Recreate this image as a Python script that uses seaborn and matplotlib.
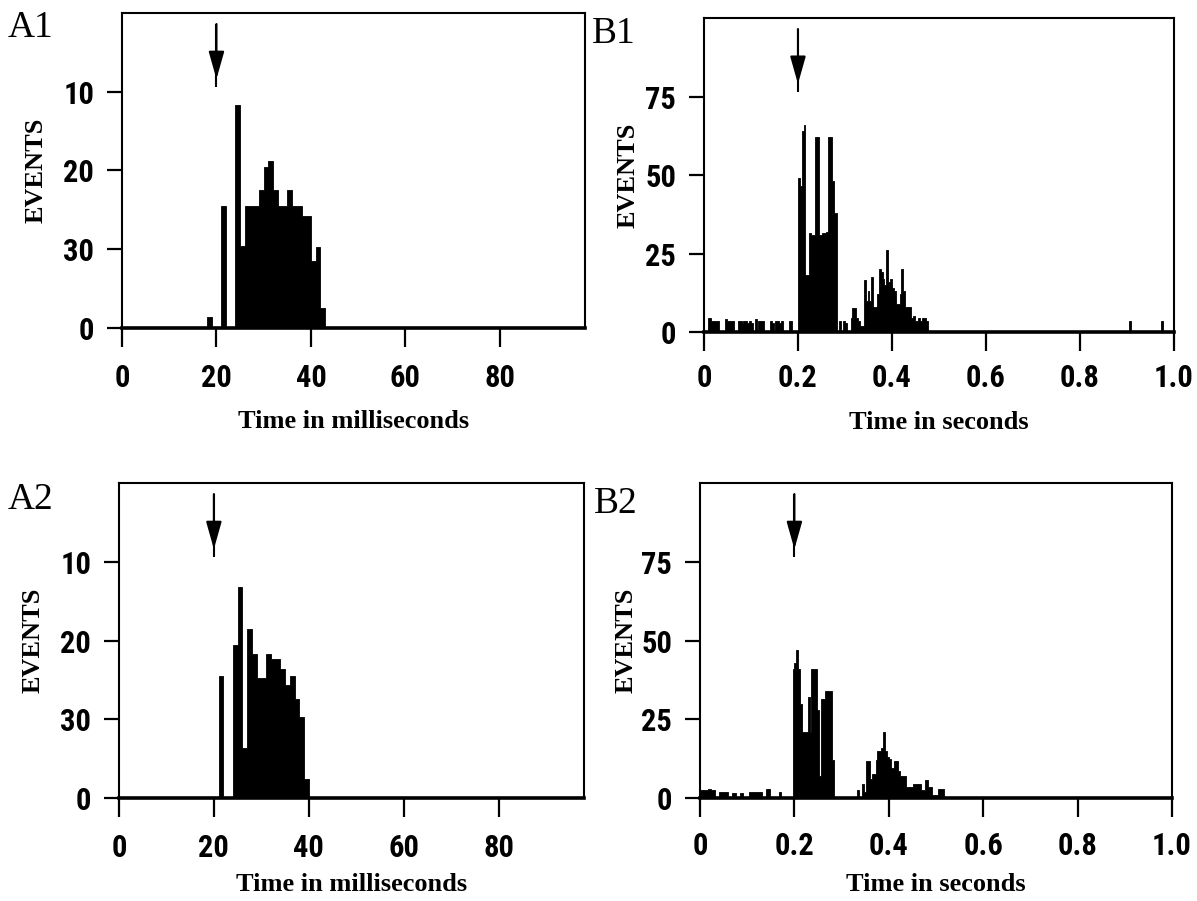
import numpy as np
import pandas as pd
import matplotlib
matplotlib.use("Agg")
import matplotlib.pyplot as plt
import matplotlib.transforms as mtransforms
from matplotlib import font_manager
from matplotlib.font_manager import FontProperties
import seaborn as sns

# ---------------- data: bin start times and event counts ----------------
# A1 / A2: 1 ms bins, time in milliseconds
a1_time = [18, 21, 24, 25, 26, 27, 28, 29, 30, 31, 32, 33, 34, 35, 36, 37, 38, 39, 40, 41, 42]
a1_count = [1.4, 15.5, 28.3, 10.4, 15.5, 15.5, 15.5, 17.5, 20.5, 21.2, 17.5, 15.5, 15.5,
            17.5, 15.5, 15.5, 14.2, 14.2, 8.5, 10.3, 2.5]

a2_time = [21, 24, 25, 26, 27, 28, 29, 30, 31, 32, 33, 34, 35, 36, 37, 38, 39]
a2_count = [15.5, 19.4, 26.8, 6.4, 21.5, 18.3, 15.3, 15.3, 18.3, 17.7, 17.7, 16.4, 14.4,
            15.5, 12.6, 10.3, 2.4]

# B1 / B2: 4 ms bins, time in seconds
b1_time = [0.008, 0.012, 0.016, 0.020, 0.024, 0.028,
           0.044, 0.048, 0.052, 0.056, 0.060,
           0.072, 0.076, 0.080, 0.084, 0.088, 0.092, 0.096, 0.100,
           0.108, 0.116, 0.120, 0.124, 0.140, 0.144,
           0.152, 0.156, 0.160, 0.164, 0.180, 0.184,
           0.200, 0.204, 0.208, 0.212, 0.216, 0.220, 0.224, 0.228, 0.232, 0.236,
           0.240, 0.244, 0.248, 0.252, 0.256, 0.260, 0.264, 0.268, 0.272, 0.276, 0.280,
           0.288, 0.296, 0.300, 0.312, 0.316, 0.320, 0.324, 0.328, 0.332, 0.336,
           0.340, 0.344, 0.348, 0.352, 0.356, 0.360, 0.364, 0.368, 0.372, 0.376,
           0.380, 0.384, 0.388, 0.392, 0.396, 0.400, 0.404, 0.408, 0.412, 0.416,
           0.420, 0.424, 0.428, 0.432, 0.436, 0.440, 0.444, 0.448, 0.452, 0.456,
           0.460, 0.464, 0.468, 0.472,
           0.904, 0.972]
b1_count = [4.5, 4.5, 3.5, 3.5, 3.5, 3.5,
            4.0, 3.5, 3.5, 3.5, 3.5,
            3.5, 3.5, 3.0, 3.5, 3.5, 3.0, 3.5, 3.0,
            4.0, 3.5, 3.5, 3.5, 3.5, 3.0,
            3.5, 3.5, 3.0, 3.5, 3.5, 3.5,
            49, 46.5, 64, 66, 18, 18, 31.5, 31, 31, 62,
            62, 31, 31, 31.5, 31.5, 32, 62, 62, 48, 38, 38,
            3.5, 3.5, 3.0, 4.5, 7.5, 7.5, 4.5, 3.5, 2.0, 2.0,
            16.5, 10, 13, 10, 17.5, 8, 8, 12, 20, 19,
            17, 15, 26, 16, 17, 14, 13, 9, 9, 12,
            20, 13, 8, 8, 8, 4.5, 5, 3.5, 3.5, 4.5,
            3.5, 4.5, 4.5, 3.5,
            3.5, 3.5]

b2_time = [0.000, 0.004, 0.008, 0.012, 0.016, 0.020, 0.024, 0.028,
           0.040, 0.044, 0.048, 0.052, 0.056,
           0.068, 0.072, 0.084, 0.088,
           0.104, 0.108, 0.112, 0.116, 0.120, 0.124, 0.128,
           0.140, 0.144, 0.168,
           0.196, 0.200, 0.204, 0.208, 0.212, 0.216, 0.220, 0.224, 0.228, 0.232,
           0.236, 0.240, 0.244, 0.248, 0.252, 0.256, 0.260, 0.264, 0.268, 0.272,
           0.276, 0.280,
           0.332, 0.344, 0.348, 0.352, 0.356, 0.360, 0.364, 0.368, 0.372, 0.376,
           0.380, 0.384, 0.388, 0.392, 0.396, 0.400, 0.404, 0.408, 0.412, 0.416,
           0.420, 0.424, 0.428, 0.432, 0.436, 0.440, 0.444, 0.448, 0.452, 0.456,
           0.460, 0.464, 0.468, 0.472, 0.476, 0.480, 0.484, 0.488, 0.492, 0.496,
           0.500, 0.504, 0.508, 0.512]
b2_count = [2.5, 2.5, 2.5, 2.5, 3.0, 3.0, 2.5, 2.5,
            2.0, 2.0, 2.0, 2.0, 2.0,
            1.5, 1.5, 1.5, 1.5,
            2.0, 2.0, 2.0, 2.0, 2.0, 2.0, 2.0,
            3.0, 3.0, 2.0,
            41, 43, 47, 41, 30, 21, 21, 21, 32, 21,
            41, 41, 41, 28, 7, 31.5, 31.5, 34, 34, 34,
            34, 12,
            2.7, 4.3, 2.0, 11.6, 11.6, 6, 7.5, 7.5, 12, 14.8,
            14.8, 16, 21, 15, 13, 12.5, 9.5, 9.5, 11.6, 11.6,
            8.5, 6.9, 6.9, 6.9, 3.4, 3.4, 3.4, 3.4, 4.5, 4.5,
            4.5, 4.5, 2.5, 2.5, 5.8, 5.8, 3.5, 3.5, 1.0, 1.0,
            1.0, 3.0, 3.0, 3.0]

# axis annotation
a_xticks = [0, 20, 40, 60, 80]
a_xticklabels = ["0", "20", "40", "60", "80"]
a_yticks = [0, 10, 20, 30]
a_yticklabels = ["0", "30", "20", "10"]
b_xticks = [0, 0.2, 0.4, 0.6, 0.8, 1.0]
b_xticklabels = ["0", "0.2", "0.4", "0.6", "0.8", "1.0"]
b_yticks = [0, 25, 50, 75]
b_yticklabels = ["0", "25", "50", "75"]
stim_ms = 20
stim_s = 0.2

# ---------------- style ----------------
sns.set_style("white")
plt.rcParams.update({"text.color": "black", "axes.labelcolor": "black",
                     "xtick.color": "black", "ytick.color": "black"})
names = {f.name for f in font_manager.fontManager.ttflist}
serif_family = "Liberation Serif" if "Liberation Serif" in names else "DejaVu Serif"
plt.rcParams["font.family"] = [serif_family, "DejaVu Serif"]


def narrow_bold_font():
    """Pick a bold condensed sans face for the tick numbers, if one is installed."""
    for fam in ["Liberation Sans Narrow", "Noto Sans Condensed", "DejaVu Sans Condensed",
                "Roboto Condensed", "Open Sans Condensed", "Noto Sans", "Roboto",
                "Open Sans", "DejaVu Sans"]:
        if fam not in names:
            continue
        fp = FontProperties(family=fam, weight="bold", stretch="condensed")
        path = font_manager.findfont(fp, fallback_to_default=False)
        low = path.lower()
        if "condensed" in low or "narrow" in low:
            return FontProperties(fname=path), True
    for f in font_manager.fontManager.ttflist:
        low = f.fname.lower()
        if ("condensed" in low or "narrow" in low) and "bold" in low and "sans" in low \
                and "italic" not in low and "oblique" not in low:
            return FontProperties(fname=f.fname), True
    return FontProperties(family="DejaVu Sans", weight="bold"), False


tick_fp, tick_is_narrow = narrow_bold_font()
tick_size = 22 if tick_is_narrow else 19

fig = plt.figure(figsize=(11.97, 9.01), dpi=100)

panels = [
    dict(name="A1", rect=[0.1019, 0.636, 0.3868, 0.3496], time=a1_time, count=a1_count,
         width=1.0, xmax=98, ymax=40, xt=a_xticks, xtl=a_xticklabels, yt=a_yticks,
         ytl=a_yticklabels, xlabel="Time in milliseconds", stim=stim_ms, xpad=11,
         ylab_x=-0.185, xlab_y=-0.298, label_xy=(8, 28)),
    dict(name="B1", rect=[0.5881, 0.6315, 0.3927, 0.3485], time=b1_time, count=b1_count,
         width=0.004, xmax=1.0, ymax=100, xt=b_xticks, xtl=b_xticklabels, yt=b_yticks,
         ytl=b_yticklabels, xlabel="Time in seconds", stim=stim_s, xpad=8,
         ylab_x=-0.162, xlab_y=-0.287, label_xy=(592, 34)),
    dict(name="A2", rect=[0.0994, 0.1143, 0.3885, 0.3496], time=a2_time, count=a2_count,
         width=1.0, xmax=98, ymax=40, xt=a_xticks, xtl=a_xticklabels, yt=a_yticks,
         ytl=a_yticklabels, xlabel="Time in milliseconds", stim=stim_ms, xpad=11,
         ylab_x=-0.184, xlab_y=-0.276, label_xy=(8, 500)),
    dict(name="B2", rect=[0.5848, 0.1143, 0.3943, 0.3496], time=b2_time, count=b2_count,
         width=0.004, xmax=1.0, ymax=100, xt=b_xticks, xtl=b_xticklabels, yt=b_yticks,
         ytl=b_yticklabels, xlabel="Time in seconds", stim=stim_s, xpad=10,
         ylab_x=-0.157, xlab_y=-0.276, label_xy=(594, 504)),
]

W, H = 1197, 901

for p in panels:
    ax = fig.add_axes(p["rect"])
    w = p["width"]
    df = pd.DataFrame({"t": np.asarray(p["time"], dtype=float) + w / 2,
                       "n": np.asarray(p["count"], dtype=float)})
    sns.histplot(data=df, x="t", weights="n", binwidth=w, binrange=(0, p["xmax"]),
                 element="step", fill=True, color="black", alpha=1, linewidth=0.6, ax=ax)

    ax.set_xlim(0, p["xmax"])
    ax.set_ylim(0, p["ymax"])
    ax.set_xticks(p["xt"])
    ax.set_xticklabels(p["xtl"])
    ax.set_yticks(p["yt"])
    ax.set_yticklabels(p["ytl"])
    for lab in ax.get_xticklabels() + ax.get_yticklabels():
        lab.set_fontproperties(tick_fp)
        lab.set_fontsize(tick_size)
        if not tick_is_narrow:
            lab.set_fontweight("bold")
    ax.tick_params(axis="x", direction="out", length=14, width=1.6, pad=p["xpad"],
                   bottom=True, top=False, color="black")
    ax.tick_params(axis="y", direction="out", length=11, width=1.6, pad=9,
                   left=True, right=False, color="black")

    for side, sp in ax.spines.items():
        sp.set_visible(True)
        sp.set_color("black")
        sp.set_linewidth(2.6 if side == "bottom" else 1.5)

    ax.set_xlabel(p["xlabel"], fontsize=19, fontweight="bold", va="center")
    ax.set_ylabel("EVENTS", fontsize=19, fontweight="bold", va="center")
    ax.xaxis.set_label_coords(0.5, p["xlab_y"])
    ax.yaxis.set_label_coords(p["ylab_x"], 0.5)

    # stimulus arrow
    trans = mtransforms.blended_transform_factory(ax.transData, ax.transAxes)
    x = p["stim"]
    ax.plot([x, x], [0.965, 0.765], transform=trans, color="black", lw=1.5,
            solid_capstyle="butt")
    ax.annotate("", xy=(x, 0.79), xycoords=trans, xytext=(x, 0.965), textcoords=trans,
                arrowprops=dict(arrowstyle="-|>,head_length=0.85,head_width=0.24",
                                color="black", lw=1.5, mutation_scale=20,
                                shrinkA=0, shrinkB=0))

    lx, ly = p["label_xy"]
    fig.text(lx / W, 1 - ly / H, p["name"], fontsize=27, ha="left", va="center",
             family=serif_family)

fig.savefig("out.png", dpi=100)
